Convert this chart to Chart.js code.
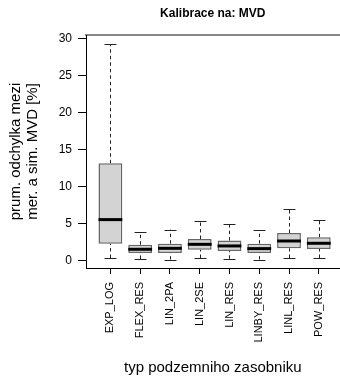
<!DOCTYPE html>
<html>
<head>
<meta charset="utf-8">
<script src="https://cdn.jsdelivr.net/npm/chart.js@4"></script>
<style>
  body { margin: 0; background: #fff; }
  canvas { display: block; }
</style>
</head>
<body>
<canvas id="chart" width="340" height="379"></canvas>
<script>
const categories = ['EXP_LOG', 'FLEX_RES', 'LIN_2PA', 'LIN_2SE', 'LIN_RES', 'LINBY_RES', 'LINL_RES', 'POW_RES'];
const whiskerLow = [0.4, 0.27, 0.18, 0.4, 0.3, 0.18, 0.4, 0.4];
const q1 = [2.34, 1.08, 1.08, 1.53, 1.35, 1.08, 1.71, 1.62];
const median = [5.59, 1.58, 1.71, 2.25, 2.03, 1.67, 2.7, 2.39];
const q3 = [13.2, 2.2, 2.34, 2.97, 2.75, 2.34, 3.78, 3.2];
const whiskerHigh = [29.3, 3.92, 4.23, 5.36, 4.95, 4.14, 6.98, 5.5];
const yTicks = [0, 5, 10, 15, 20, 25, 30];

Chart.defaults.font.family = '"Liberation Sans", Arial, sans-serif';
Chart.defaults.color = '#000';

// whiskers, caps and medians, drawn through the scales
const boxParts = {
    id: 'boxParts',
    beforeDatasetsDraw(chart) {
        const ctx = chart.ctx;
        const y = chart.scales.y;
        const meta = chart.getDatasetMeta(0);
        ctx.save();
        ctx.strokeStyle = '#222';
        ctx.lineWidth = 1;
        meta.data.forEach((bar, i) => {
            const x = Math.round(bar.x) + 0.5;
            const half = bar.width / 4;
            ctx.setLineDash([3.5, 3]);
            ctx.beginPath();
            ctx.moveTo(x, y.getPixelForValue(whiskerLow[i]));
            ctx.lineTo(x, y.getPixelForValue(q1[i]));
            ctx.moveTo(x, y.getPixelForValue(q3[i]));
            ctx.lineTo(x, y.getPixelForValue(whiskerHigh[i]));
            ctx.stroke();
            ctx.setLineDash([]);
            ctx.beginPath();
            let yl = Math.round(y.getPixelForValue(whiskerLow[i])) + 0.5;
            let yh = Math.round(y.getPixelForValue(whiskerHigh[i])) + 0.5;
            ctx.moveTo(x - half, yl);
            ctx.lineTo(x + half, yl);
            ctx.moveTo(x - half, yh);
            ctx.lineTo(x + half, yh);
            ctx.stroke();
        });
        ctx.restore();
    },
    afterDatasetsDraw(chart) {
        const ctx = chart.ctx;
        const y = chart.scales.y;
        const meta = chart.getDatasetMeta(0);
        ctx.save();
        ctx.strokeStyle = '#000';
        ctx.lineWidth = 3;
        meta.data.forEach((bar, i) => {
            const ym = y.getPixelForValue(median[i]);
            ctx.beginPath();
            ctx.moveTo(bar.x - bar.width / 2, ym);
            ctx.lineTo(bar.x + bar.width / 2, ym);
            ctx.stroke();
        });
        ctx.restore();
    }
};

let ctx = document.getElementById('chart');

let grafica = new Chart(ctx, {
    type: 'bar',
    data: {
        datasets: [{
            data: categories.map((c, i) => ({ x: i + 1, y: [q1[i], q3[i]] })),
            backgroundColor: '#d3d3d3',
            borderColor: '#666',
            borderWidth: 1.5,
            borderSkipped: false,
            barPercentage: 0.8,
            categoryPercentage: 1
        }]
    },
    options: {
        responsive: false,
        animation: false,
        layout: { padding: 0 },
        plugins: {
            legend: { display: false },
            tooltip: { enabled: false }
        },
        scales: {
            x: {
                type: 'linear',
                position: 'bottom',
                min: 0.18,
                max: 8.70,
                offset: false,
                grid: { drawOnChartArea: false, offset: false, tickLength: 6, color: '#000' },
                border: { color: '#000', width: 1 },
                ticks: {
                    autoSkip: false,
                    minRotation: 90,
                    maxRotation: 90,
                    padding: 8,
                    font: { size: 11 },
                    callback: v => categories[v - 1]
                },
                afterBuildTicks: s => { s.ticks = categories.map((c, i) => ({ value: i + 1 })); },
                title: {
                    display: true,
                    text: 'typ podzemniho zasobniku',
                    font: { size: 15 },
                    padding: { top: 0, bottom: 2 }
                },
                afterFit: s => { s.height = 111; }
            },
            top: {
                type: 'linear',
                axis: 'x',
                position: 'top',
                grid: { display: false },
                border: { display: true, color: '#888', width: 2 },
                ticks: { display: false },
                title: {
                    display: true,
                    text: 'Kalibrace na: MVD',
                    font: { size: 12, weight: 'bold' },
                    padding: { top: 6, bottom: 0 }
                },
                afterFit: s => { s.height = 35; }
            },
            y: {
                min: -0.95,
                max: 30.54,
                grid: { drawOnChartArea: false, tickLength: 8, color: '#000' },
                border: { color: '#000', width: 1 },
                ticks: { padding: 6, font: { size: 12 } },
                afterBuildTicks: s => { s.ticks = yTicks.map(v => ({ value: v })); },
                title: {
                    display: true,
                    text: ['prum. odchylka mezi', 'mer. a sim. MVD [%]'],
                    font: { size: 15, lineHeight: 1.15 },
                    padding: { top: 7, bottom: 0 }
                },
                afterFit: s => { s.width = 86; }
            }
        }
    },
    plugins: [boxParts]
});
</script>
</body>
</html>
